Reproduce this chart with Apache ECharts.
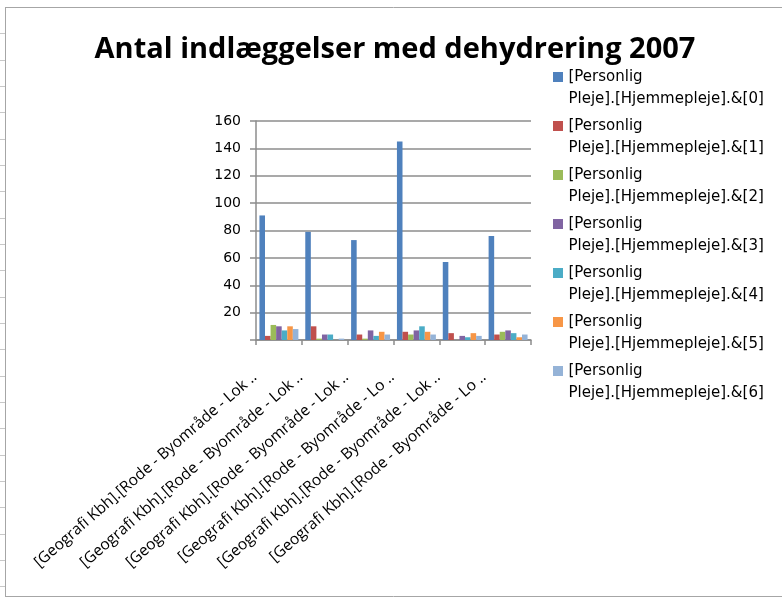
<!DOCTYPE html>
<html><head><meta charset="utf-8">
<script src="https://cdn.jsdelivr.net/npm/echarts@6/dist/echarts.min.js"></script>
<style>html,body{margin:0;padding:0;background:#fff}#c{width:782px;height:597px}</style>
</head><body><div id="c"></div>
<script>
const categories = [
  "[Geografi Kbh].[Rode - Byområde - Lok ..",
  "[Geografi Kbh].[Rode - Byområde - Lok ..",
  "[Geografi Kbh].[Rode - Byområde - Lok ..",
  "[Geografi Kbh].[Rode - Byområde - Lo ..",
  "[Geografi Kbh].[Rode - Byområde - Lok ..",
  "[Geografi Kbh].[Rode - Byområde - Lo .."
];
const seriesNames = [
  "[Personlig\nPleje].[Hjemmepleje].&[0]",
  "[Personlig\nPleje].[Hjemmepleje].&[1]",
  "[Personlig\nPleje].[Hjemmepleje].&[2]",
  "[Personlig\nPleje].[Hjemmepleje].&[3]",
  "[Personlig\nPleje].[Hjemmepleje].&[4]",
  "[Personlig\nPleje].[Hjemmepleje].&[5]",
  "[Personlig\nPleje].[Hjemmepleje].&[6]"
];
const s0 = [91, 79, 73, 145, 57, 76];
const s1 = [3, 10, 4, 6, 5, 4];
const s2 = [11, 1, 1, 4, 0, 6];
const s3 = [10, 4, 7, 7, 3, 7];
const s4 = [7, 4, 3, 10, 2, 5];
const s5 = [10, 0, 6, 6, 5, 2];
const s6 = [8, 1, 4, 4, 3, 4];
const seriesValues = [s0, s1, s2, s3, s4, s5, s6];
const colors = ["#4F81BD", "#C0504D", "#9BBB59", "#8064A2", "#4BACC6", "#F79646", "#95B3D7"];
const yTicks = [0, 20, 40, 60, 80, 100, 120, 140, 160];

const chart = echarts.init(document.getElementById('c'));
const iconPath = 'path://M0,0H10V10H0Z M0,32H10';
chart.setOption({
  backgroundColor: '#ffffff',
  animation: false,
  color: colors,
  title: {
    text: 'Antal indlæggelser med dehydrering 2007',
    left: 390, top: 30, textAlign: 'center',
    textStyle: { fontFamily: 'Open Sans', fontWeight: 'bold', fontSize: 29, color: '#000' }
  },
  legend: {
    orient: 'vertical', left: 548, top: 61,
    itemWidth: 11, itemHeight: 32, itemGap: 5,
    icon: iconPath,
    textStyle: { fontFamily: 'DejaVu Sans', fontSize: 15, color: '#000', lineHeight: 22 },
    data: seriesNames.map(n => ({ name: n, icon: iconPath }))
  },
  grid: { left: 256, right: 251, top: 121, bottom: 257, containLabel: false },
  xAxis: {
    type: 'category', data: categories,
    axisLine: { lineStyle: { color: '#8c8c8c', width: 1.5 } },
    axisTick: { show: true, alignWithLabel: false, length: 5, lineStyle: { color: '#8c8c8c', width: 1.5 } },
    axisLabel: { rotate: 41, interval: 0, margin: 14, padding: [0, 32, 0, 0],
      fontFamily: 'Open Sans', fontSize: 15.5, color: '#000' }
  },
  yAxis: {
    type: 'value', min: 0, max: yTicks[yTicks.length - 1], interval: 20,
    axisLine: { show: true, lineStyle: { color: '#8c8c8c', width: 1.5 } },
    axisTick: { show: true, length: 6, lineStyle: { color: '#8c8c8c', width: 1.5 } },
    splitLine: { lineStyle: { color: '#8c8c8c', width: 1.5 } },
    axisLabel: { margin: 15, fontFamily: 'DejaVu Sans', fontSize: 14, color: '#000',
      formatter: v => (v === 0 ? '' : String(v)) }
  },
  series: seriesValues.map((d, i) => ({
    name: seriesNames[i], type: 'bar', data: d,
    barGap: '0%', barCategoryGap: '15%',
    itemStyle: { color: colors[i] }
  })),
  graphic: [
    { type: 'line', shape: { x1: 5.5, y1: 7, x2: 5.5, y2: 597 }, style: { stroke: '#a6a6a6', lineWidth: 1 } },
    { type: 'line', shape: { x1: 5, y1: 7.5, x2: 782, y2: 7.5 }, style: { stroke: '#a6a6a6', lineWidth: 1 } },
    { type: 'line', shape: { x1: 5, y1: 596.5, x2: 782, y2: 596.5 }, style: { stroke: '#a6a6a6', lineWidth: 1 } },
    ...[33, 60, 86, 112, 139, 165, 191, 218, 244, 270, 297, 323, 349, 376, 402, 428, 455, 481, 507, 534, 560, 586].map(y => ({
      type: 'line', shape: { x1: 0, y1: y + 0.5, x2: 5, y2: y + 0.5 }, style: { stroke: '#c8c8c8', lineWidth: 1 }
    }))
  ]
});
</script></body></html>
